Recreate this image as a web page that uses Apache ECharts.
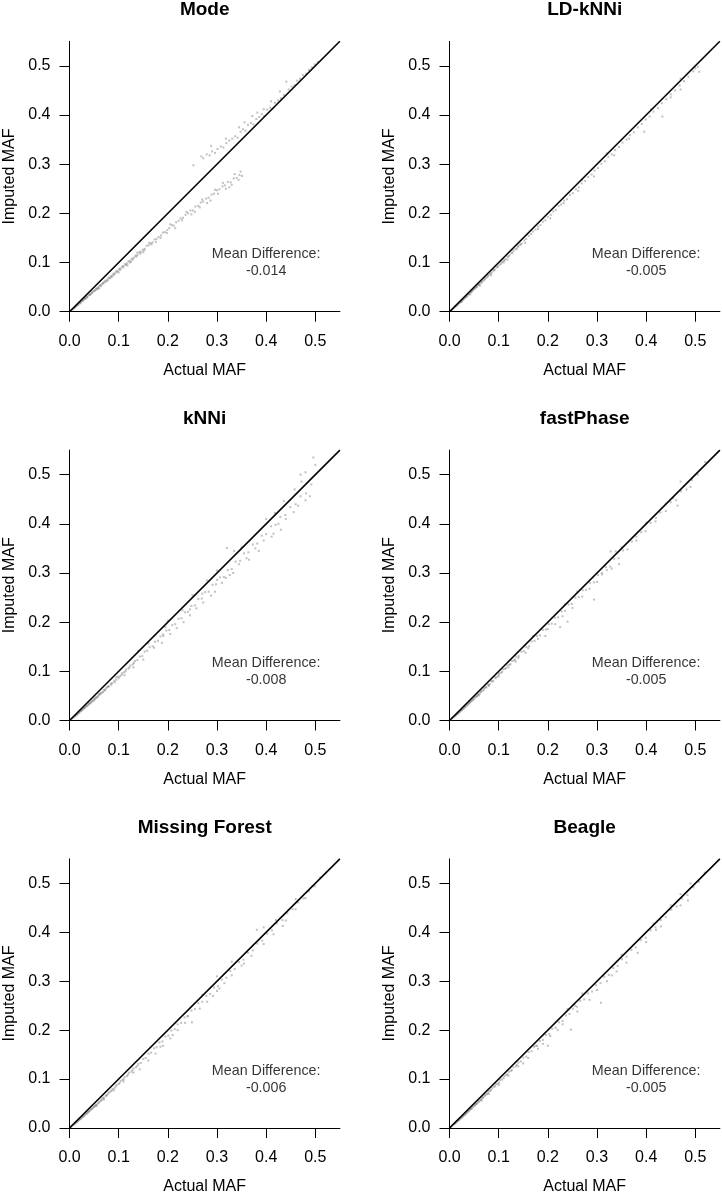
<!DOCTYPE html>
<html>
<head>
<meta charset="utf-8">
<script src="https://cdn.jsdelivr.net/npm/echarts@6/dist/echarts.min.js"></script>
<style>
html,body{margin:0;padding:0;background:#fff;}
#chart{width:722px;height:1196px;}
</style>
</head>
<body>
<div id="chart"></div>
<script>
// ---------- data ----------
const panelTitles = ['Mode', 'LD-kNNi', 'kNNi', 'fastPhase', 'Missing Forest', 'Beagle'];
const meanDiffs = ['-0.014', '-0.005', '-0.008', '-0.005', '-0.006', '-0.005'];
const tickValues = [0, 0.1, 0.2, 0.3, 0.4, 0.5];
const diagonal = [[0, 0], [0.55, 0.55]];
const labelAnchor = [0.4, 0.1];

const modePoints = [
[0.004,0.003],[0.006,0.005],[0.008,0.006],[0.010,0.008],[0.011,0.010],[0.013,0.011],[0.014,0.012],[0.016,0.013],[0.018,0.015],[0.019,0.017],[0.021,0.018],[0.023,0.019],[0.024,0.021],[0.026,0.022],[0.028,0.023],[0.030,0.026],[0.031,0.027],[0.033,0.028],[0.035,0.030],[0.037,0.031],[0.039,0.034],[0.041,0.035],[0.043,0.036],[0.045,0.039],[0.047,0.040],[0.049,0.042],[0.052,0.044],[0.054,0.047],[0.056,0.047],[0.059,0.050],[0.061,0.053],[0.063,0.054],[0.066,0.056],[0.068,0.059],[0.071,0.060],[0.073,0.063],[0.076,0.064],[0.079,0.068],[0.081,0.069],[0.084,0.072],[0.087,0.073],[0.089,0.077],[0.092,0.078],[0.095,0.082],[0.098,0.083],[0.101,0.087],[0.104,0.088],[0.107,0.092],[0.110,0.093],[0.113,0.097],[0.117,0.098],[0.120,0.103],[0.124,0.104],[0.127,0.108],[0.131,0.110],[0.134,0.114],[0.138,0.115],[0.142,0.121],[0.145,0.122],[0.149,0.126],[0.153,0.128],[0.157,0.134],[0.161,0.135],[0.165,0.139],[0.169,0.141],[0.173,0.147],[0.177,0.148],[0.181,0.152],[0.186,0.155],[0.190,0.161],[0.194,0.162],[0.199,0.166],[0.203,0.170],[0.208,0.176],[0.212,0.175],[0.217,0.182],[0.222,0.185],[0.226,0.190],[0.231,0.191],[0.236,0.197],[0.241,0.200],[0.246,0.206],[0.251,0.206],[0.256,0.214],[0.262,0.215],[0.267,0.222],[0.272,0.224],[0.278,0.230],[0.283,0.232],[0.289,0.238],[0.294,0.240],[0.300,0.247],[0.305,0.249],[0.311,0.255],[0.316,0.257],[0.322,0.264],[0.328,0.263],[0.334,0.271],[0.340,0.272],[0.346,0.278],[0.351,0.276],
[0.060,0.047],[0.083,0.068],[0.118,0.094],[0.150,0.121],[0.176,0.142],[0.198,0.160],[0.215,0.170],[0.229,0.186],[0.248,0.198],[0.265,0.212],[0.287,0.226],[0.302,0.240],[0.318,0.250],[0.330,0.258],[0.344,0.268],[0.138,0.120],[0.162,0.140],[0.205,0.178],[0.238,0.203],[0.270,0.228],[0.296,0.248],[0.312,0.262],[0.336,0.280],[0.348,0.285],[0.185,0.150],[0.100,0.080],[0.125,0.101],[0.255,0.203],[0.280,0.221],[0.325,0.253],
[0.012,0.009],[0.017,0.014],[0.022,0.017],[0.027,0.023],[0.032,0.026],[0.036,0.029],[0.042,0.034],[0.046,0.038],[0.051,0.042],[0.055,0.045],[0.058,0.048],[0.064,0.052],[0.069,0.057],[0.074,0.061],[0.078,0.064],[0.086,0.071],[0.091,0.075],[0.096,0.080],[0.103,0.085],[0.109,0.090],[0.115,0.095],[0.122,0.100],[0.129,0.106],[0.136,0.112],[0.144,0.118],[0.152,0.125],[0.167,0.137],
[0.252,0.298],[0.268,0.316],[0.272,0.312],[0.279,0.320],[0.285,0.318],[0.290,0.326],[0.296,0.323],[0.301,0.331],[0.308,0.336],[0.313,0.334],[0.319,0.343],[0.325,0.348],[0.331,0.352],[0.337,0.357],[0.342,0.354],[0.348,0.366],[0.353,0.371],[0.358,0.368],[0.363,0.380],[0.369,0.384],[0.374,0.381],[0.380,0.392],[0.386,0.396],[0.391,0.402],[0.396,0.398],[0.402,0.411],[0.408,0.415],[0.413,0.413],[0.418,0.425],[0.424,0.430],[0.430,0.434],[0.436,0.441],[0.441,0.468],[0.446,0.452],[0.452,0.458],[0.458,0.461],[0.463,0.470],[0.469,0.474],[0.475,0.481],[0.481,0.484],[0.487,0.492],[0.493,0.497],[0.499,0.503],[0.505,0.508],[0.356,0.385],[0.372,0.398],[0.395,0.412],[0.410,0.428],[0.428,0.448],[0.382,0.405],[0.345,0.375],[0.288,0.337],[0.318,0.352]
];

const ldknniPoints = [
[0.003,0.003],[0.005,0.004],[0.007,0.006],[0.009,0.008],[0.011,0.010],[0.013,0.011],[0.015,0.013],[0.017,0.015],[0.019,0.017],[0.021,0.019],[0.023,0.020],[0.025,0.023],[0.027,0.024],[0.029,0.026],[0.031,0.028],[0.033,0.030],[0.036,0.032],[0.038,0.035],[0.040,0.036],[0.043,0.039],[0.045,0.041],[0.048,0.044],[0.050,0.046],[0.053,0.049],[0.056,0.051],[0.058,0.054],[0.061,0.056],[0.064,0.059],[0.067,0.062],[0.070,0.064],[0.073,0.068],[0.076,0.070],[0.079,0.074],[0.082,0.076],[0.086,0.080],[0.089,0.084],[0.092,0.086],[0.096,0.090],[0.099,0.094],[0.103,0.096],[0.107,0.101],[0.110,0.104],[0.114,0.107],[0.118,0.112],[0.122,0.115],[0.126,0.119],[0.130,0.124],[0.134,0.127],[0.139,0.132],[0.143,0.136],[0.147,0.139],[0.152,0.145],[0.156,0.148],[0.161,0.154],[0.166,0.158],[0.170,0.163],[0.175,0.167],[0.180,0.173],[0.185,0.176],[0.190,0.183],[0.195,0.186],[0.200,0.193],[0.206,0.197],[0.211,0.204],[0.216,0.207],[0.222,0.215],[0.227,0.218],[0.233,0.226],[0.239,0.229],[0.245,0.237],[0.251,0.241],[0.257,0.249],[0.263,0.253],[0.269,0.261],[0.276,0.266],[0.282,0.274],[0.289,0.279],[0.295,0.287],[0.302,0.292],[0.309,0.301],[0.316,0.306],[0.323,0.315],[0.330,0.320],[0.337,0.329],[0.345,0.335],[0.352,0.344],[0.360,0.350],[0.367,0.359],[0.375,0.365],[0.383,0.375],[0.391,0.382],[0.399,0.391],[0.407,0.397],[0.415,0.407],[0.424,0.414],[0.432,0.424],[0.441,0.432],[0.450,0.442],[0.459,0.450],[0.468,0.460],[0.477,0.469],[0.486,0.478],[0.496,0.489],[0.505,0.498],
[0.433,0.397],[0.396,0.366],[0.508,0.488],[0.294,0.275],[0.205,0.190],[0.154,0.140],[0.118,0.106],[0.335,0.318],[0.470,0.452],[0.262,0.246],[0.085,0.074],[0.062,0.053],[0.042,0.035],[0.025,0.020],[0.180,0.168],[0.232,0.221],[0.365,0.352],[0.450,0.436],[0.140,0.133],[0.110,0.100],[0.500,0.495],[0.320,0.322],[0.410,0.412],[0.470,0.474],[0.270,0.268],
[0.012,0.011],[0.016,0.014],[0.020,0.018],[0.024,0.021],[0.028,0.025],[0.032,0.029],[0.035,0.031],[0.039,0.036],[0.044,0.040],[0.047,0.043],[0.052,0.047],[0.055,0.050],[0.060,0.055],[0.066,0.060],[0.072,0.066],[0.078,0.072],[0.084,0.078],[0.091,0.084],[0.098,0.091],[0.105,0.098],[0.112,0.104],[0.120,0.112],[0.128,0.120],[0.137,0.128],[0.145,0.137]
];

const knniPoints = [
[0.004,0.003],[0.006,0.005],[0.008,0.006],[0.010,0.008],[0.012,0.010],[0.014,0.011],[0.016,0.013],[0.018,0.015],[0.020,0.016],[0.022,0.019],[0.024,0.020],[0.027,0.022],[0.029,0.025],[0.031,0.026],[0.034,0.029],[0.036,0.030],[0.039,0.033],[0.041,0.035],[0.044,0.037],[0.046,0.040],[0.049,0.041],[0.052,0.045],[0.055,0.046],[0.058,0.050],[0.061,0.052],[0.064,0.056],[0.067,0.057],[0.070,0.062],[0.073,0.063],[0.077,0.068],[0.080,0.069],[0.084,0.075],[0.087,0.076],[0.091,0.081],[0.095,0.083],[0.099,0.089],[0.103,0.090],[0.107,0.096],[0.111,0.098],[0.115,0.104],[0.120,0.106],[0.124,0.112],[0.129,0.114],[0.133,0.121],[0.138,0.123],[0.143,0.130],[0.148,0.131],[0.153,0.140],[0.158,0.142],[0.163,0.149],[0.169,0.151],[0.174,0.160],[0.180,0.162],[0.185,0.171],[0.191,0.172],[0.197,0.183],[0.203,0.184],[0.209,0.194],[0.215,0.196],[0.222,0.207],[0.228,0.208],[0.235,0.220],[0.241,0.221],[0.248,0.233],[0.255,0.234],[0.262,0.247],[0.269,0.248],[0.276,0.261],[0.283,0.262],[0.291,0.276],[0.298,0.277],[0.306,0.291],[0.314,0.292],[0.322,0.306],[0.330,0.308],[0.338,0.323],[0.347,0.325],[0.355,0.340],[0.364,0.342],[0.373,0.358],[0.382,0.360],[0.391,0.376],[0.400,0.379],[0.410,0.395],[0.419,0.398],[0.429,0.414],[0.439,0.418],[0.449,0.434],[0.460,0.440],[0.470,0.456],[0.481,0.462],[0.492,0.480],
[0.112,0.092],[0.130,0.108],[0.150,0.124],[0.172,0.148],[0.188,0.158],[0.205,0.176],[0.218,0.188],[0.232,0.200],[0.245,0.214],[0.258,0.228],[0.272,0.240],[0.288,0.254],[0.296,0.262],[0.310,0.280],[0.318,0.290],[0.326,0.296],[0.333,0.300],[0.345,0.318],[0.360,0.330],[0.378,0.350],[0.395,0.366],[0.411,0.374],[0.425,0.400],[0.440,0.410],[0.456,0.424],[0.472,0.486],[0.489,0.456],[0.496,0.535],[0.480,0.505],[0.458,0.470],[0.436,0.446],[0.418,0.422],[0.400,0.410],[0.350,0.352],[0.335,0.345],[0.320,0.351],[0.300,0.305],[0.280,0.285],[0.250,0.255],[0.200,0.203],[0.160,0.157],[0.140,0.142],[0.480,0.448],[0.465,0.437],[0.430,0.388],[0.415,0.380],[0.385,0.345],[0.365,0.327],[0.270,0.258],[0.230,0.224],[0.195,0.190],[0.095,0.088],[0.075,0.066],[0.060,0.054],[0.050,0.043],[0.190,0.175],[0.300,0.286],[0.245,0.226],[0.470,0.500],[0.500,0.520],
[0.011,0.009],[0.015,0.012],[0.019,0.016],[0.023,0.019],[0.026,0.022],[0.030,0.025],[0.033,0.028],[0.037,0.031],[0.040,0.034],[0.043,0.036],[0.047,0.039],[0.051,0.043],[0.054,0.047],[0.057,0.048],[0.063,0.054],[0.068,0.058],[0.072,0.061],[0.079,0.070],[0.085,0.073],[0.092,0.078],[0.100,0.086],[0.106,0.093],[0.114,0.100],[0.122,0.108],[0.131,0.117]
];

const fastphasePoints = [
[0.003,0.002],[0.005,0.004],[0.007,0.006],[0.009,0.007],[0.011,0.009],[0.013,0.011],[0.015,0.013],[0.017,0.014],[0.019,0.016],[0.021,0.018],[0.023,0.020],[0.025,0.021],[0.028,0.024],[0.030,0.026],[0.032,0.028],[0.035,0.031],[0.037,0.032],[0.040,0.035],[0.042,0.038],[0.045,0.039],[0.047,0.043],[0.050,0.044],[0.053,0.048],[0.056,0.049],[0.059,0.054],[0.062,0.055],[0.065,0.060],[0.068,0.061],[0.071,0.066],[0.075,0.067],[0.078,0.073],[0.082,0.074],[0.085,0.080],[0.089,0.081],[0.093,0.088],[0.097,0.089],[0.101,0.096],[0.105,0.097],[0.109,0.104],[0.113,0.105],[0.118,0.112],[0.122,0.113],[0.127,0.121],[0.131,0.122],[0.136,0.130],[0.141,0.131],[0.146,0.140],[0.151,0.141],[0.156,0.150],[0.162,0.151],[0.167,0.161],[0.173,0.162],[0.178,0.172],[0.184,0.173],[0.190,0.184],[0.196,0.185],[0.202,0.196],[0.208,0.197],[0.215,0.209],[0.221,0.210],[0.228,0.222],[0.235,0.223],[0.242,0.236],[0.249,0.237],[0.256,0.250],[0.263,0.251],[0.271,0.265],[0.278,0.266],[0.286,0.280],[0.294,0.281],[0.302,0.296],[0.310,0.297],[0.318,0.312],[0.327,0.313],[0.335,0.329],[0.344,0.330],[0.353,0.346],[0.362,0.348],[0.371,0.364],[0.380,0.366],[0.390,0.383],[0.399,0.385],[0.409,0.402],[0.419,0.405],[0.429,0.423],[0.440,0.426],[0.450,0.444],[0.461,0.448],[0.471,0.466],[0.482,0.470],[0.493,0.489],[0.505,0.500],[0.520,0.526],
[0.294,0.246],[0.240,0.201],[0.464,0.437],[0.470,0.486],[0.328,0.344],[0.338,0.344],[0.320,0.306],[0.250,0.229],[0.230,0.212],[0.270,0.252],[0.300,0.282],[0.330,0.309],[0.310,0.300],[0.200,0.186],[0.180,0.166],[0.160,0.147],[0.140,0.127],[0.120,0.108],[0.100,0.090],[0.080,0.070],[0.060,0.051],[0.215,0.196],[0.285,0.268],[0.260,0.262],[0.235,0.236],[0.350,0.352],[0.400,0.402],[0.440,0.441],[0.380,0.374],[0.420,0.412],[0.455,0.452],[0.490,0.475],[0.170,0.172],[0.135,0.120],[0.155,0.138],[0.195,0.172],[0.225,0.190],[0.345,0.318],
[0.012,0.010],[0.016,0.013],[0.020,0.017],[0.024,0.021],[0.027,0.023],[0.031,0.027],[0.034,0.030],[0.038,0.034],[0.041,0.036],[0.044,0.040],[0.048,0.042],[0.052,0.047],[0.055,0.050],[0.058,0.052],[0.064,0.058],[0.070,0.063],[0.074,0.068],[0.080,0.072],[0.087,0.079],[0.094,0.086],[0.100,0.093],[0.107,0.099],[0.115,0.107],[0.124,0.115],[0.133,0.124]
];

const missingForestPoints = [
[0.003,0.002],[0.005,0.004],[0.007,0.006],[0.009,0.007],[0.011,0.009],[0.013,0.011],[0.015,0.012],[0.017,0.014],[0.019,0.016],[0.021,0.018],[0.024,0.020],[0.026,0.022],[0.028,0.024],[0.031,0.026],[0.033,0.029],[0.036,0.030],[0.038,0.033],[0.041,0.035],[0.043,0.038],[0.046,0.039],[0.049,0.043],[0.052,0.045],[0.055,0.048],[0.058,0.050],[0.061,0.054],[0.064,0.056],[0.067,0.060],[0.070,0.062],[0.074,0.066],[0.077,0.068],[0.081,0.073],[0.084,0.075],[0.088,0.080],[0.092,0.082],[0.096,0.088],[0.100,0.090],[0.104,0.096],[0.108,0.098],[0.112,0.104],[0.117,0.106],[0.121,0.113],[0.126,0.115],[0.130,0.122],[0.135,0.124],[0.140,0.131],[0.145,0.133],[0.150,0.141],[0.155,0.143],[0.161,0.152],[0.166,0.154],[0.172,0.163],[0.177,0.165],[0.183,0.175],[0.189,0.177],[0.195,0.187],[0.201,0.189],[0.207,0.199],[0.214,0.202],[0.220,0.212],[0.227,0.215],[0.234,0.226],[0.241,0.229],[0.248,0.240],[0.255,0.243],[0.262,0.255],[0.270,0.258],[0.278,0.270],[0.286,0.274],[0.294,0.287],[0.302,0.290],[0.310,0.303],[0.319,0.307],[0.327,0.321],[0.336,0.325],[0.345,0.339],[0.354,0.344],[0.363,0.358],[0.373,0.363],[0.382,0.377],[0.392,0.383],[0.402,0.397],[0.412,0.404],[0.422,0.418],[0.433,0.425],[0.443,0.439],[0.454,0.447],[0.465,0.461],[0.476,0.469],[0.487,0.484],[0.499,0.494],[0.510,0.512],[0.522,0.522],
[0.381,0.405],[0.434,0.413],[0.249,0.216],[0.143,0.120],[0.292,0.270],[0.160,0.138],[0.175,0.152],[0.190,0.168],[0.205,0.183],[0.220,0.200],[0.235,0.215],[0.265,0.244],[0.280,0.258],[0.300,0.280],[0.315,0.296],[0.330,0.312],[0.350,0.332],[0.370,0.352],[0.395,0.376],[0.415,0.396],[0.440,0.424],[0.460,0.447],[0.480,0.470],[0.330,0.340],[0.300,0.310],[0.270,0.272],[0.395,0.410],[0.460,0.468],[0.420,0.425],[0.130,0.113],[0.110,0.095],[0.090,0.077],[0.070,0.058],[0.055,0.045],[0.240,0.228],[0.210,0.190],[0.185,0.166],[0.355,0.336],[0.305,0.285],
[0.012,0.010],[0.016,0.013],[0.020,0.017],[0.023,0.019],[0.027,0.023],[0.030,0.025],[0.034,0.029],[0.037,0.032],[0.040,0.034],[0.044,0.038],[0.048,0.041],[0.051,0.044],[0.054,0.047],[0.060,0.052],[0.065,0.057],[0.069,0.061],[0.075,0.066],[0.079,0.071],[0.086,0.077],[0.094,0.085],[0.102,0.092],[0.110,0.100],[0.119,0.109],[0.128,0.118],[0.138,0.127]
];

const beaglePoints = [
[0.003,0.002],[0.005,0.004],[0.007,0.006],[0.009,0.008],[0.011,0.009],[0.013,0.011],[0.015,0.013],[0.017,0.015],[0.019,0.016],[0.021,0.018],[0.023,0.020],[0.026,0.022],[0.028,0.025],[0.030,0.026],[0.033,0.029],[0.035,0.031],[0.038,0.034],[0.040,0.035],[0.043,0.039],[0.045,0.040],[0.048,0.044],[0.051,0.045],[0.054,0.049],[0.057,0.051],[0.060,0.055],[0.063,0.057],[0.066,0.061],[0.069,0.063],[0.073,0.068],[0.076,0.069],[0.080,0.075],[0.083,0.076],[0.087,0.082],[0.091,0.084],[0.095,0.090],[0.099,0.091],[0.103,0.098],[0.107,0.099],[0.112,0.106],[0.116,0.108],[0.121,0.115],[0.125,0.117],[0.130,0.124],[0.135,0.126],[0.140,0.134],[0.145,0.136],[0.150,0.144],[0.156,0.146],[0.161,0.155],[0.167,0.157],[0.172,0.166],[0.178,0.168],[0.184,0.178],[0.190,0.180],[0.196,0.190],[0.203,0.192],[0.209,0.203],[0.216,0.205],[0.223,0.216],[0.230,0.219],[0.237,0.230],[0.244,0.233],[0.251,0.244],[0.259,0.248],[0.266,0.260],[0.274,0.263],[0.282,0.275],[0.290,0.279],[0.298,0.292],[0.307,0.296],[0.315,0.309],[0.324,0.313],[0.333,0.327],[0.342,0.331],[0.351,0.345],[0.360,0.350],[0.370,0.364],[0.379,0.369],[0.389,0.384],[0.399,0.389],[0.409,0.404],[0.419,0.410],[0.430,0.425],[0.440,0.431],[0.451,0.446],[0.462,0.453],[0.473,0.469],[0.484,0.476],[0.496,0.492],[0.507,0.503],[0.519,0.522],
[0.200,0.168],[0.308,0.256],[0.247,0.201],[0.383,0.358],[0.260,0.238],[0.285,0.262],[0.300,0.282],[0.320,0.300],[0.230,0.212],[0.180,0.162],[0.160,0.143],[0.140,0.126],[0.120,0.107],[0.100,0.088],[0.080,0.070],[0.065,0.056],[0.340,0.320],[0.360,0.338],[0.400,0.380],[0.430,0.412],[0.470,0.455],[0.485,0.465],[0.490,0.500],[0.450,0.455],[0.415,0.418],[0.350,0.354],[0.270,0.275],[0.240,0.243],[0.220,0.200],[0.190,0.172],[0.330,0.312],[0.255,0.250],[0.205,0.188],[0.175,0.168],[0.150,0.132],[0.420,0.405],[0.470,0.478],
[0.012,0.010],[0.016,0.014],[0.020,0.017],[0.024,0.021],[0.027,0.024],[0.031,0.027],[0.034,0.030],[0.037,0.033],[0.041,0.037],[0.044,0.039],[0.047,0.042],[0.052,0.047],[0.055,0.049],[0.059,0.053],[0.064,0.058],[0.068,0.062],[0.072,0.066],[0.078,0.071],[0.085,0.078],[0.093,0.086],[0.101,0.093],[0.110,0.102],[0.118,0.110],[0.127,0.118],[0.137,0.129]
];

const panelPoints = [modePoints, ldknniPoints, knniPoints, fastphasePoints, missingForestPoints, beaglePoints];

// ---------- layout ----------
const FONT = '"Liberation Sans", Arial, Helvetica, sans-serif';
const gridLeft0 = 69.5, colStep = 380, gridTop0 = 41.3, rowStep = 408.8, plotSize = 270.4;

const chart = echarts.init(document.getElementById('chart'), null, {renderer: 'canvas', width: 722, height: 1196});

const grids = [], xAxes = [], yAxes = [], series = [], graphics = [];
const fmt = v => v.toFixed(1);

panelTitles.forEach((title, i) => {
  const r = Math.floor(i / 2), c = i % 2;
  const left = gridLeft0 + c * colStep;
  const top = gridTop0 + r * rowStep;
  grids.push({left: left, top: top, width: plotSize, height: plotSize, containLabel: false});
  const axisCommon = {
    gridIndex: i, type: 'value', min: 0, max: 0.55, interval: 0.1,
    nameLocation: 'middle',
    nameTextStyle: {fontSize: 16, color: '#000', fontFamily: FONT},
    axisLine: {show: true, onZero: false, lineStyle: {color: '#000', width: 1}},
    axisTick: {show: true, length: 10, customValues: tickValues, lineStyle: {color: '#000', width: 1}},
    splitLine: {show: false},
    silent: true
  };
  xAxes.push(Object.assign({}, axisCommon, {
    name: 'Actual MAF', nameGap: 51,
    axisLabel: {customValues: tickValues, margin: 22, fontSize: 16, color: '#000', fontFamily: FONT, formatter: fmt}
  }));
  yAxes.push(Object.assign({}, axisCommon, {
    name: 'Imputed MAF', nameGap: 52,
    axisLabel: {customValues: tickValues, margin: 19, fontSize: 16, color: '#000', fontFamily: FONT, formatter: fmt}
  }));
  series.push({
    type: 'scatter', xAxisIndex: i, yAxisIndex: i, data: panelPoints[i],
    symbol: 'rect', symbolSize: 2, silent: true,
    itemStyle: {color: 'rgba(125,125,125,0.6)'}
  });
  series.push({
    type: 'line', xAxisIndex: i, yAxisIndex: i, data: diagonal,
    symbol: 'none', silent: true,
    lineStyle: {color: '#000', width: 1.6}
  });
  series.push({
    type: 'scatter', xAxisIndex: i, yAxisIndex: i, data: [labelAnchor],
    symbolSize: 1, silent: true,
    itemStyle: {color: 'transparent'},
    label: {show: true, position: 'inside', formatter: 'Mean Difference:\n' + meanDiffs[i],
      fontSize: 14.3, lineHeight: 17, color: '#000', fontFamily: FONT, align: 'center'}
  });
  graphics.push({
    type: 'text', x: left + plotSize / 2, y: 9.8 + r * rowStep,
    style: {text: title, font: 'bold 19px ' + FONT, fill: '#000', textAlign: 'center', textVerticalAlign: 'middle'},
    silent: true
  });
});

chart.setOption({
  animation: false,
  backgroundColor: '#fff',
  grid: grids,
  xAxis: xAxes,
  yAxis: yAxes,
  series: series,
  graphic: graphics
});
</script>
</body>
</html>
